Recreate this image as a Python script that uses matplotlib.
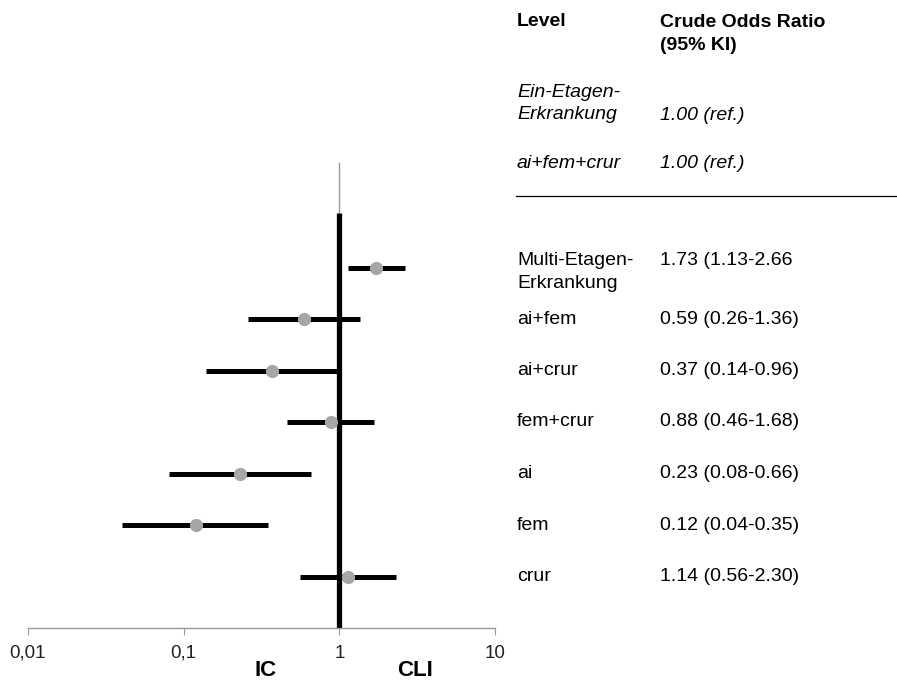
import matplotlib
matplotlib.use('Agg')

import matplotlib.pyplot as plt
import matplotlib.transforms as mtransforms

# Odds ratios with 95% confidence limits, top row first
levels = ['Multi-Etagen-\nErkrankung', 'ai+fem', 'ai+crur', 'fem+crur', 'ai', 'fem', 'crur']
odds = [1.73, 0.59, 0.37, 0.88, 0.23, 0.12, 1.14]
lower = [1.13, 0.26, 0.14, 0.46, 0.08, 0.04, 0.56]
upper = [2.66, 1.36, 0.96, 1.68, 0.66, 0.35, 2.30]
or_labels = ['1.73 (1.13-2.66', '0.59 (0.26-1.36)', '0.37 (0.14-0.96)', '0.88 (0.46-1.68)',
             '0.23 (0.08-0.66)', '0.12 (0.04-0.35)', '1.14 (0.56-2.30)']

ref_levels = ['Ein-Etagen-\nErkrankung', 'ai+fem+crur']
ref_labels = ['1.00 (ref.)', '1.00 (ref.)']

xticks = [0.01, 0.1, 1, 10]
xticklabels = ['0,01', '0,1', '1', '10']

plt.rcParams['font.family'] = ['Liberation Sans', 'DejaVu Sans']

W, H = 897, 684
fig = plt.figure(figsize=(W / 100, H / 100), dpi=100)
pitch = 51.5  # pixels per row
ax = fig.add_axes([28 / W, (H - 628) / H, (495 - 28) / W, 628 / H])
ax.set_xscale('log')
ax.set_xlim(0.01, 10)
ax.set_ylim(0, 628 / pitch)

n = len(levels)
ypos = [n - i for i in range(n)]

# reference line at OR = 1
ax.plot([1, 1], [8.05, 9.03], color='#999999', lw=1, zorder=1)
ax.plot([1, 1], [0, 8.05], color='black', lw=3.8, zorder=2, solid_capstyle='butt')

for y, o, lo, hi in zip(ypos, odds, lower, upper):
    ax.plot([lo, hi], [y, y], color='black', lw=3.6, solid_capstyle='butt', zorder=3)
    ax.plot(o, y, 'o', color='#a6a6a6', markersize=9.5, markeredgewidth=0, zorder=4)

for s in ['top', 'right', 'left']:
    ax.spines[s].set_visible(False)
ax.spines['bottom'].set_color('#999999')
ax.spines['bottom'].set_linewidth(1)
ax.set_yticks([])
ax.set_xticks(xticks)
ax.set_xticklabels(xticklabels, fontsize=13.5, color='#222222')
ax.minorticks_off()
ax.tick_params(axis='x', length=5, color='#999999', pad=7)

fig.text(266 / W, 1 - 671 / H, 'IC', fontsize=16, fontweight='bold', ha='center', va='center')
fig.text(415 / W, 1 - 671 / H, 'CLI', fontsize=16, fontweight='bold', ha='center', va='center')

# table on the right, x in figure coords, y in row units
tr = mtransforms.blended_transform_factory(fig.transFigure, ax.transData)
col1, col2 = 517 / W, 660 / W
fs = 14

def row_y(px):
    return (628 - px) / pitch

def put(x, y, s, **kw):
    ax.text(x, y, s, transform=tr, fontsize=fs, va='center', clip_on=False, **kw)

put(col1, row_y(22), 'Level', fontweight='bold')
put(col2, row_y(34), 'Crude Odds Ratio\n(95% KI)', fontweight='bold', linespacing=1.43)

put(col1, row_y(103.5), ref_levels[0], style='italic', linespacing=1.45)
put(col2, row_y(115), ref_labels[0], style='italic')
put(col1, row_y(163), ref_levels[1], style='italic')
put(col2, row_y(163), ref_labels[1], style='italic')

fig.add_artist(plt.Line2D([516 / W, 1.0], [1 - 196 / H, 1 - 196 / H], color='black', lw=0.9))

for y, lev, lab in zip(ypos, levels, or_labels):
    if '\n' in lev:
        put(col1, y - 4.5 / pitch, lev, linespacing=1.4)
        put(col2, y + 7 / pitch, lab)
    else:
        put(col1, y, lev)
        put(col2, y, lab)

plt.savefig('out.png', dpi=100)
